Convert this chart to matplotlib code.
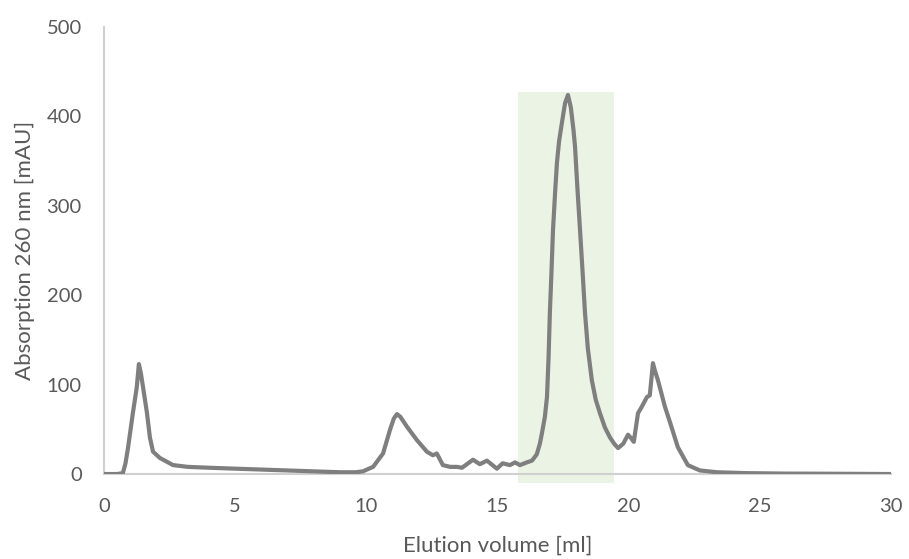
import matplotlib
matplotlib.use("Agg")
import matplotlib.pyplot as plt
import numpy as np

plt.rcParams['font.family'] = ['Lato', 'DejaVu Sans']

# Chromatogram trace: elution volume [ml] and absorption at 260 nm [mAU]
volume_ml = [0.0, 0.5, 0.72, 0.82, 0.92, 1.1, 1.25, 1.33, 1.41, 1.49, 1.64, 1.75,
             1.87, 2.13, 2.63, 3.2, 4.04,
             5.0, 6.0, 7.0, 8.0, 9.0, 9.6, 9.87, 10.26, 10.64, 10.9, 11.05, 11.17,
             11.3, 11.55, 11.93, 12.31, 12.54, 12.69, 12.92, 13.2, 13.46, 13.65,
             14.07, 14.33, 14.6, 14.98, 15.2, 15.48, 15.67, 15.86, 16.12, 16.32,
             16.5, 16.62, 16.7, 16.81, 16.89, 16.95, 17.0, 17.06, 17.12, 17.2,
             17.27, 17.35, 17.46, 17.58, 17.69, 17.8, 17.9, 17.96, 18.05, 18.15,
             18.25, 18.34, 18.45, 18.6, 18.75, 18.91, 19.1, 19.29, 19.45, 19.6,
             19.8, 19.98, 20.1, 20.2, 20.36, 20.5, 20.7, 20.81, 20.93, 21.0, 21.12,
             21.39, 21.58, 21.88, 22.26, 22.72, 23.37, 24.5, 26.0, 28.0, 30.0]
absorbance_mau = [0, 0, 1, 12, 30, 68, 97, 123, 112, 97, 68, 41,
                  25, 18, 10, 8, 7,
                  6, 5, 4, 3, 2, 2, 3, 8, 23, 49, 62, 67,
                  64, 53, 38, 25, 21, 23, 10, 8, 8, 7,
                  16, 11, 15, 6, 12, 10, 13, 10, 13, 15,
                  22, 34, 46, 64, 86, 130, 180, 225, 273, 315,
                  348, 372, 393, 415, 424, 410, 385, 366, 320, 273,
                  225, 180, 140, 105, 83, 68, 52, 41, 34, 29,
                  34, 44, 40, 36, 68, 75, 86, 88, 124, 116, 105,
                  75, 58, 30, 10, 4, 2, 1, 0.5, 0.3, 0]

# Collected fraction window
fraction_start, fraction_end = 15.78, 19.44
fraction_top = 427

fig = plt.figure(figsize=(9.09, 5.59), dpi=100)
ax = fig.add_axes([0.1144, 0.152, 0.8656, 0.7997])

ax.fill_between([fraction_start, fraction_end], -10, fraction_top,
                color='#ebf3e4', zorder=0, linewidth=0, clip_on=False)
ax.plot(volume_ml, absorbance_mau, color='#7f7f7f', linewidth=3,
        solid_joinstyle='round', solid_capstyle='round', zorder=3)

ax.set_xlim(0, 30)
ax.set_ylim(0, 500)
ax.set_xticks([0, 5, 10, 15, 20, 25, 30])
ax.set_yticks([0, 100, 200, 300, 400, 500])

for side in ['top', 'right']:
    ax.spines[side].set_visible(False)
for side in ['left', 'bottom']:
    ax.spines[side].set_color('#d0d0d0')
    ax.spines[side].set_linewidth(1.5)

ax.tick_params(axis='both', length=0, labelsize=14.5, labelcolor='#595959')
ax.tick_params(axis='x', pad=17)
ax.tick_params(axis='y', pad=16)

ax.set_xlabel('Elution volume [ml]', fontsize=16, color='#595959', labelpad=15)
ax.set_ylabel('Absorption 260 nm [mAU]', fontsize=16, color='#595959', labelpad=8)

fig.savefig('out.png', dpi=100)
